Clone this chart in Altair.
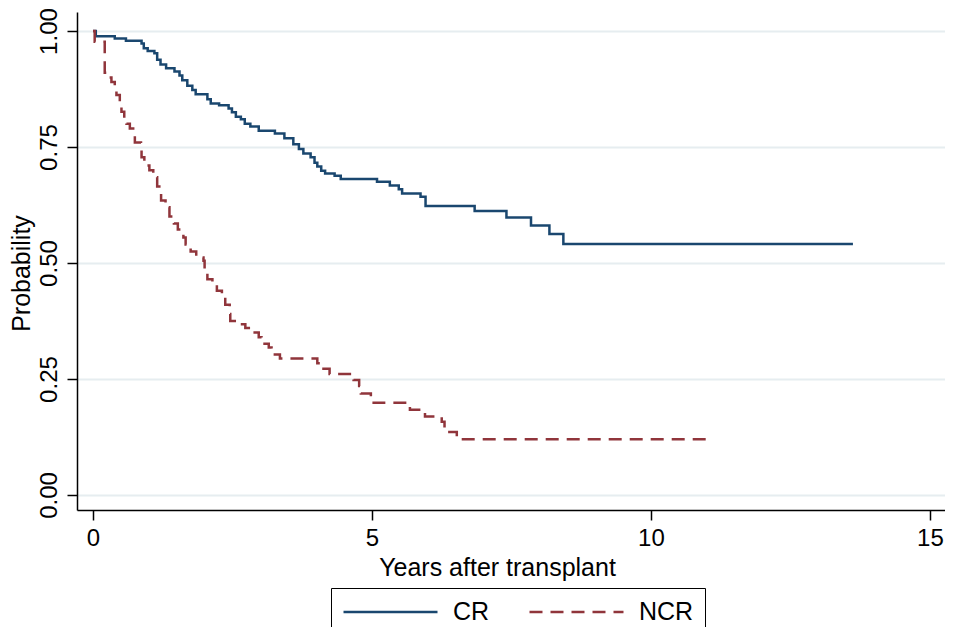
import altair as alt
import pandas as pd

groups = ["CR", "NCR"]
colors = ["#1a476f", "#90353b"]

cr_t = [0, 0.05, 0.39, 0.59, 0.87, 0.91, 0.98, 1.10, 1.15, 1.21, 1.31, 1.46, 1.55, 1.60, 1.69,
        1.78, 1.84, 2.05, 2.11, 2.26, 2.43, 2.49, 2.56, 2.65, 2.72, 2.82, 2.97, 3.26, 3.43, 3.59,
        3.69, 3.77, 3.90, 3.97, 4.02, 4.09, 4.16, 4.33, 4.44, 5.09, 5.32, 5.48, 5.54, 5.87, 5.96,
        6.84, 7.41, 7.85, 8.18, 8.43, 13.62]
cr_s = [1.0, 0.989, 0.984, 0.979, 0.973, 0.963, 0.957, 0.952, 0.938, 0.928, 0.920, 0.913, 0.904,
        0.894, 0.882, 0.873, 0.864, 0.853, 0.844, 0.840, 0.833, 0.825, 0.815, 0.810, 0.800, 0.794,
        0.785, 0.779, 0.769, 0.756, 0.746, 0.736, 0.728, 0.716, 0.708, 0.699, 0.693, 0.688, 0.681,
        0.675, 0.667, 0.659, 0.650, 0.643, 0.623, 0.612, 0.598, 0.581, 0.5625, 0.541, 0.541]

ncr_t = [0, 0.03, 0.21, 0.26, 0.33, 0.39, 0.42, 0.48, 0.51, 0.56, 0.60, 0.66, 0.72, 0.75, 0.86,
         0.87, 0.92, 1.01, 1.08, 1.15, 1.22, 1.30, 1.37, 1.45, 1.52, 1.62, 1.66, 1.75, 1.85, 1.98,
         2.00, 2.05, 2.14, 2.22, 2.31, 2.37, 2.45, 2.46, 2.58, 2.73, 2.82, 2.97, 3.02, 3.15, 3.20,
         3.35, 4.02, 4.08, 4.24, 4.67, 4.77, 4.80, 4.98, 5.03, 5.68, 5.95, 6.25, 6.30, 6.52, 11.01]
ncr_s = [1.0, 0.977, 0.91, 0.90, 0.89, 0.875, 0.862, 0.84, 0.826, 0.81, 0.80, 0.79, 0.775, 0.76,
         0.745, 0.728, 0.71, 0.70, 0.685, 0.665, 0.635, 0.62, 0.60, 0.585, 0.572, 0.555, 0.54,
         0.525, 0.512, 0.505, 0.48, 0.465, 0.455, 0.44, 0.428, 0.41, 0.39, 0.375, 0.368, 0.36,
         0.35, 0.34, 0.326, 0.318, 0.303, 0.294, 0.284, 0.272, 0.261, 0.248, 0.235, 0.219, 0.21,
         0.199, 0.184, 0.169, 0.158, 0.136, 0.12, 0.12]

x_ticks = [0, 5, 10, 15]
y_ticks = [0, 0.25, 0.5, 0.75, 1.0]

rows = []
for g, ts, ss in [("CR", cr_t, cr_s), ("NCR", ncr_t, ncr_s)]:
    for i, (t, s) in enumerate(zip(ts, ss)):
        rows.append({"group": g, "t": t, "s": s, "i": i})
df = pd.DataFrame(rows)

FONT = "Liberation Sans"

legend = alt.Legend(
    title=None, orient="none", legendX=254, legendY=576, direction="horizontal",
    symbolType="stroke", symbolSize=8836, symbolStrokeWidth=2.5, clipHeight=26,
    labelFontSize=25, labelFont=FONT, labelColor="black", labelOffset=14,
    columnPadding=38, padding=11, strokeColor="black", fillColor="white",
)

chart = alt.Chart(df).mark_line(interpolate="step-after", strokeWidth=2.5, strokeCap="butt").encode(
    x=alt.X("t:Q", scale=alt.Scale(domain=[-0.287, 15.27], nice=False, zero=False),
            axis=alt.Axis(values=x_ticks, title="Years after transplant", grid=False,
                          tickSize=10, tickWidth=1.5, tickColor="black",
                          domainColor="black", domainWidth=1.5,
                          labelFontSize=24, labelFont=FONT, labelColor="black", labelPadding=6,
                          labelFlush=False,
                          titleFontSize=25, titleFont=FONT, titleFontWeight="normal",
                          titleColor="black", titleX=420, titleY=65,
                          titleBaseline="alphabetic", titleAlign="center")),
    y=alt.Y("s:Q", scale=alt.Scale(domain=[-0.0323, 1.041], nice=False, zero=False),
            axis=alt.Axis(values=y_ticks, format=".2f", title="Probability", grid=True,
                          gridColor="#e6edf0", gridWidth=2,
                          tickSize=10, tickWidth=1.5, tickColor="black",
                          domainColor="black", domainWidth=1.5,
                          labelFontSize=24, labelFont=FONT, labelColor="black",
                          labelAngle=-90, labelAlign="center", labelBaseline="bottom",
                          labelPadding=6, labelFlush=False,
                          titleFontSize=25, titleFont=FONT, titleFontWeight="normal",
                          titleColor="black", titleAngle=-90, titleX=-48, titleY=261,
                          titleBaseline="alphabetic", titleAlign="center")),
    color=alt.Color("group:N", scale=alt.Scale(domain=groups, range=colors), legend=legend),
    strokeDash=alt.StrokeDash("group:N", scale=alt.Scale(domain=groups, range=[[1, 0], [13, 8]]),
                              legend=legend),
    order=alt.Order("i:Q"),
).properties(
    width=868, height=498,
    padding={"left": 69, "top": 4, "right": 0, "bottom": 117},
    autosize=alt.AutoSizeParams(type="none"),
).configure(font=FONT).configure_view(strokeWidth=0, stroke=None)

chart.save("out.html", embed_options={"renderer": "svg", "actions": False})
